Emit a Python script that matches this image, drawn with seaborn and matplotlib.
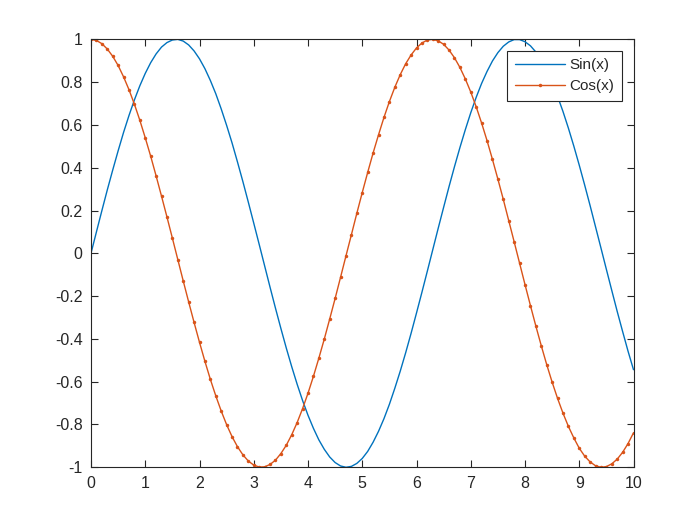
import matplotlib
matplotlib.use('Agg')
import pandas as pd
from matplotlib import pyplot as plt
import seaborn as sns

# sample positions (0 to 10, step 0.1)
x_vals = [0.0, 0.1, 0.2, 0.3, 0.4, 0.5, 0.6, 0.7, 0.8, 0.9,
          1.0, 1.1, 1.2, 1.3, 1.4, 1.5, 1.6, 1.7, 1.8, 1.9,
          2.0, 2.1, 2.2, 2.3, 2.4, 2.5, 2.6, 2.7, 2.8, 2.9,
          3.0, 3.1, 3.2, 3.3, 3.4, 3.5, 3.6, 3.7, 3.8, 3.9,
          4.0, 4.1, 4.2, 4.3, 4.4, 4.5, 4.6, 4.7, 4.8, 4.9,
          5.0, 5.1, 5.2, 5.3, 5.4, 5.5, 5.6, 5.7, 5.8, 5.9,
          6.0, 6.1, 6.2, 6.3, 6.4, 6.5, 6.6, 6.7, 6.8, 6.9,
          7.0, 7.1, 7.2, 7.3, 7.4, 7.5, 7.6, 7.7, 7.8, 7.9,
          8.0, 8.1, 8.2, 8.3, 8.4, 8.5, 8.6, 8.7, 8.8, 8.9,
          9.0, 9.1, 9.2, 9.3, 9.4, 9.5, 9.6, 9.7, 9.8, 9.9,
          10.0]

sin_vals = [0.000, 0.100, 0.199, 0.296, 0.389, 0.479, 0.565, 0.644, 0.717, 0.783,
            0.841, 0.891, 0.932, 0.964, 0.985, 0.997, 1.000, 0.992, 0.974, 0.946,
            0.909, 0.863, 0.808, 0.746, 0.675, 0.598, 0.516, 0.427, 0.335, 0.239,
            0.141, 0.042, -0.058, -0.158, -0.256, -0.351, -0.443, -0.530, -0.612, -0.688,
            -0.757, -0.818, -0.872, -0.916, -0.952, -0.978, -0.994, -1.000, -0.996, -0.982,
            -0.959, -0.926, -0.883, -0.832, -0.773, -0.706, -0.631, -0.551, -0.465, -0.374,
            -0.279, -0.182, -0.083, 0.017, 0.117, 0.215, 0.312, 0.405, 0.494, 0.578,
            0.657, 0.729, 0.794, 0.850, 0.899, 0.938, 0.968, 0.988, 0.999, 0.999,
            0.989, 0.970, 0.941, 0.902, 0.855, 0.798, 0.734, 0.663, 0.585, 0.501,
            0.412, 0.319, 0.223, 0.124, 0.025, -0.075, -0.174, -0.272, -0.366, -0.458,
            -0.544]

cos_vals = [1.000, 0.995, 0.980, 0.955, 0.921, 0.878, 0.825, 0.765, 0.697, 0.622,
            0.540, 0.454, 0.362, 0.267, 0.170, 0.071, -0.029, -0.129, -0.227, -0.323,
            -0.416, -0.505, -0.589, -0.666, -0.737, -0.801, -0.857, -0.904, -0.942, -0.971,
            -0.990, -0.999, -0.998, -0.987, -0.967, -0.936, -0.897, -0.848, -0.791, -0.726,
            -0.654, -0.575, -0.490, -0.401, -0.307, -0.211, -0.112, -0.012, 0.087, 0.187,
            0.284, 0.378, 0.469, 0.554, 0.635, 0.709, 0.776, 0.835, 0.886, 0.927,
            0.960, 0.983, 0.997, 1.000, 0.993, 0.977, 0.950, 0.914, 0.869, 0.815,
            0.754, 0.685, 0.609, 0.527, 0.439, 0.347, 0.252, 0.153, 0.054, -0.046,
            -0.146, -0.244, -0.340, -0.432, -0.520, -0.602, -0.678, -0.747, -0.809, -0.863,
            -0.911, -0.948, -0.975, -0.993, -1.000, -0.997, -0.984, -0.962, -0.930, -0.889,
            -0.839]

x_ticks = [0, 1, 2, 3, 4, 5, 6, 7, 8, 9, 10]
y_ticks = [-1, -0.8, -0.6, -0.4, -0.2, 0, 0.2, 0.4, 0.6, 0.8, 1]
y_tick_labels = ['-1', '-0.8', '-0.6', '-0.4', '-0.2', '0', '0.2', '0.4', '0.6', '0.8', '1']

sns.set_style('ticks')
plt.rcParams['font.family'] = ['Liberation Sans', 'DejaVu Sans']

df = pd.DataFrame({'x': x_vals, 'sin': sin_vals, 'cos': cos_vals})

fig = plt.figure(figsize=(7, 5.25), dpi=100)
ax = fig.add_axes([0.13, 0.11, 0.775, 0.815])

sns.lineplot(data=df, x='x', y='sin', ax=ax, color='#0072BD', linewidth=1.0,
             sort=False, label='Sin(x)')
sns.lineplot(data=df, x='x', y='cos', ax=ax, color='#D95319', linewidth=1.0,
             marker='.', markersize=5, markeredgewidth=0, sort=False, label='Cos(x)')

ax.set_xlim(0, 10)
ax.set_ylim(-1, 1)
ax.set_xticks(x_ticks)
ax.set_yticks(y_ticks)
ax.set_yticklabels(y_tick_labels)
ax.set_xlabel('')
ax.set_ylabel('')
ax.tick_params(direction='in', top=True, right=True, labelsize=11.5, length=5,
               width=0.8, colors='#262626', pad=6)
for side in ax.spines.values():
    side.set_visible(True)
    side.set_linewidth(0.8)
    side.set_color('#262626')

leg = ax.legend(loc='upper right', fontsize=11, fancybox=False, framealpha=1,
                edgecolor='#262626', borderaxespad=0.75, handlelength=3.3,
                handletextpad=0.3, labelspacing=0.45, borderpad=0.5)
leg.get_frame().set_linewidth(0.8)

plt.savefig('out.png', dpi=100)
plt.close()
